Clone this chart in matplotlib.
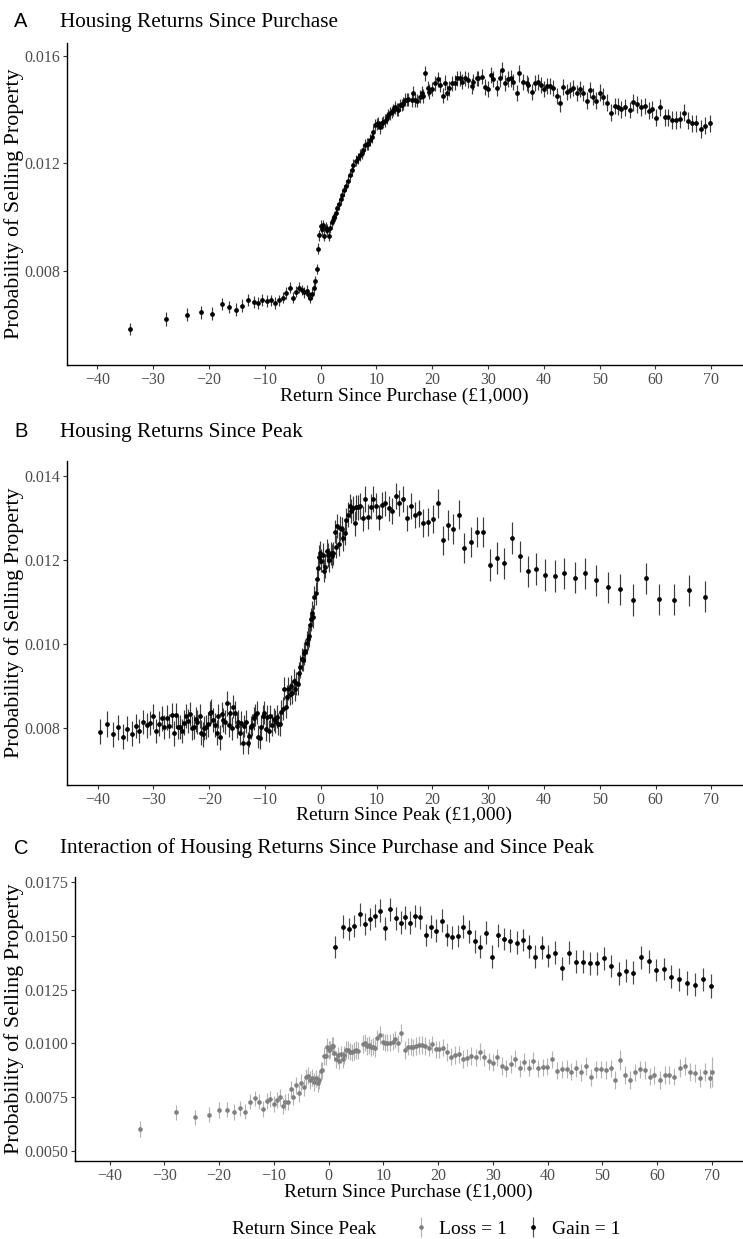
import matplotlib
matplotlib.use('Agg')
import matplotlib.pyplot as plt

plt.rcParams['font.family'] = ['Liberation Serif', 'DejaVu Serif']
plt.rcParams['axes.unicode_minus'] = True

# ---------------- Panel A: returns since purchase ----------------
xA1 = [-34.2, -27.7, -24.0, -21.4, -19.4, -17.7, -16.4, -15.1, -14.0, -13.0,
       -12.0, -11.2, -10.4, -9.6, -8.8, -8.1, -7.4, -6.8, -6.1, -5.5,
       -4.9, -4.4, -3.9, -3.4, -2.9, -2.5, -2.2, -1.8, -1.5, -1.2]
yA1 = [0.00583, 0.00620, 0.00636, 0.00645, 0.00640, 0.00675, 0.00664, 0.00655, 0.00670, 0.00691,
       0.00683, 0.00680, 0.00690, 0.00686, 0.00690, 0.00680, 0.00690, 0.00700, 0.00717, 0.00737,
       0.00700, 0.00722, 0.00737, 0.00728, 0.00720, 0.00725, 0.00713, 0.00700, 0.00712, 0.00737]
eA1 = [0.00024, 0.00026, 0.00025, 0.00024, 0.00024, 0.00023, 0.00023, 0.00023, 0.00023, 0.00022,
       0.00022, 0.00022, 0.00022, 0.00022, 0.00021, 0.00021, 0.00021, 0.00021, 0.00021, 0.00021,
       0.00020, 0.00020, 0.00020, 0.00020, 0.00020, 0.00020, 0.00020, 0.00019, 0.00019, 0.00019]

xA2 = [-1.0, -0.7, -0.5, -0.2, 0.0, 0.2, 0.5, 0.7, 1.0, 1.2,
       1.5, 1.7, 2.0, 2.3, 2.5, 2.8, 3.0, 3.3, 3.6, 3.9,
       4.2, 4.5, 4.9, 5.2, 5.6, 5.9, 6.3]
yA2 = [0.00760, 0.00805, 0.00882, 0.00932, 0.00967, 0.00954, 0.00969, 0.00930, 0.00960, 0.00953,
       0.00930, 0.00960, 0.00983, 0.00990, 0.01000, 0.01014, 0.01033, 0.01047, 0.01067, 0.01082,
       0.01100, 0.01117, 0.01135, 0.01157, 0.01175, 0.01194, 0.01210]
eA2 = [0.00019, 0.00019, 0.00020, 0.00020, 0.00021, 0.00021, 0.00021, 0.00021, 0.00021, 0.00021,
       0.00021, 0.00021, 0.00020, 0.00020, 0.00020, 0.00020, 0.00020, 0.00020, 0.00020, 0.00020,
       0.00020, 0.00020, 0.00021, 0.00021, 0.00021, 0.00021, 0.00021]

xA3 = [6.80, 7.10, 7.40, 7.69, 7.99, 8.29, 8.59, 8.89, 9.18, 9.48,
       9.78, 10.08, 10.38, 10.67, 10.97, 11.27, 11.57, 11.87, 12.16, 12.46,
       12.76, 13.06, 13.36, 13.66, 13.95, 14.25, 14.55, 14.85, 15.15, 15.45,
       15.74, 16.34, 16.64, 16.94, 17.23, 17.83, 18.13, 18.43, 18.73]
yA3 = [0.01219, 0.01231, 0.01237, 0.01250, 0.01268, 0.01272, 0.01272, 0.01287, 0.01297, 0.01318,
       0.01343, 0.01346, 0.01351, 0.01334, 0.01349, 0.01355, 0.01359, 0.01368, 0.01380, 0.01386,
       0.01392, 0.01399, 0.01408, 0.01401, 0.01399, 0.01417, 0.01417, 0.01423, 0.01436, 0.01436,
       0.01438, 0.01436, 0.01463, 0.01436, 0.01433, 0.01448, 0.01463, 0.01451, 0.01535]
eA3 = [0.00021, 0.00021, 0.00021, 0.00021, 0.00022, 0.00022, 0.00022, 0.00022, 0.00022, 0.00022,
       0.00022, 0.00022, 0.00022, 0.00023, 0.00023, 0.00023, 0.00023, 0.00023, 0.00023, 0.00023,
       0.00023, 0.00023, 0.00024, 0.00024, 0.00024, 0.00024, 0.00024, 0.00024, 0.00024, 0.00024,
       0.00025, 0.00025, 0.00025, 0.00025, 0.00025, 0.00025, 0.00025, 0.00026, 0.00027]

xA4 = [19.20, 19.50, 19.92, 20.51, 21.11, 21.41, 21.89, 22.30, 22.60, 23.02,
       23.50, 24.09, 24.39, 24.99, 25.28, 25.88, 26.48, 27.07, 27.37, 27.97,
       28.27, 28.86, 29.46, 30.05, 30.53, 30.95, 31.54, 32.14, 32.44, 33.04,
       33.63, 34.11, 34.53, 35.12, 35.54, 36.32, 36.91, 37.21, 37.81, 38.40,
       38.88, 39.48, 40.07, 40.49, 41.09, 41.68, 42.28, 42.87, 43.47, 44.07,
       44.66, 45.26, 45.86, 46.45, 47.05, 47.65, 48.24, 48.84, 49.43, 50.03,
       50.63, 51.40, 52.12, 52.71, 53.31, 53.91, 54.62, 55.40, 55.99, 56.77,
       57.48, 58.08, 58.80, 59.45, 60.17, 60.88, 61.66, 62.25, 62.97, 63.74,
       64.46, 65.12, 65.83, 66.55, 67.32, 68.10, 68.93, 69.71]
yA4 = [0.01479, 0.01467, 0.01476, 0.01498, 0.01513, 0.01492, 0.01451, 0.01500, 0.01463, 0.01479,
       0.01498, 0.01500, 0.01516, 0.01516, 0.01504, 0.01516, 0.01510, 0.01488, 0.01502, 0.01516,
       0.01516, 0.01523, 0.01485, 0.01476, 0.01529, 0.01513, 0.01479, 0.01516, 0.01548, 0.01498,
       0.01513, 0.01516, 0.01504, 0.01463, 0.01535, 0.01504, 0.01498, 0.01492, 0.01467, 0.01498,
       0.01504, 0.01492, 0.01476, 0.01489, 0.01489, 0.01479, 0.01451, 0.01423, 0.01485, 0.01467,
       0.01473, 0.01482, 0.01463, 0.01476, 0.01463, 0.01433, 0.01473, 0.01448, 0.01433, 0.01463,
       0.01448, 0.01426, 0.01389, 0.01413, 0.01411, 0.01401, 0.01408, 0.01399, 0.01427, 0.01420,
       0.01408, 0.01413, 0.01396, 0.01401, 0.01370, 0.01408, 0.01371, 0.01371, 0.01361, 0.01361,
       0.01364, 0.01389, 0.01358, 0.01349, 0.01349, 0.01329, 0.01340, 0.01349]
eA4 = [0.00027, 0.00027, 0.00027, 0.00027, 0.00028, 0.00028, 0.00028, 0.00028, 0.00028, 0.00028,
       0.00028, 0.00028, 0.00028, 0.00028, 0.00029, 0.00029, 0.00029, 0.00029, 0.00029, 0.00029,
       0.00029, 0.00029, 0.00029, 0.00029, 0.00030, 0.00030, 0.00030, 0.00030, 0.00030, 0.00030,
       0.00030, 0.00030, 0.00030, 0.00030, 0.00031, 0.00030, 0.00030, 0.00030, 0.00030, 0.00030,
       0.00030, 0.00030, 0.00030, 0.00030, 0.00030, 0.00030, 0.00030, 0.00031, 0.00030, 0.00030,
       0.00030, 0.00030, 0.00030, 0.00030, 0.00030, 0.00031, 0.00030, 0.00031, 0.00031, 0.00031,
       0.00031, 0.00031, 0.00031, 0.00031, 0.00031, 0.00031, 0.00031, 0.00031, 0.00031, 0.00031,
       0.00031, 0.00031, 0.00031, 0.00031, 0.00032, 0.00031, 0.00032, 0.00032, 0.00032, 0.00032,
       0.00032, 0.00032, 0.00032, 0.00032, 0.00032, 0.00033, 0.00032, 0.00032]

# ---------------- Panel B: returns since peak ----------------
xB1 = [-39.51, -38.38, -37.30, -36.35, -35.51, -34.67, -33.90, -33.18, -32.52, -31.87,
       -31.21, -30.67, -30.07, -29.54, -29.06, -28.52, -28.10, -27.62, -27.15, -26.73,
       -26.31, -25.95, -25.59, -25.24, -24.82, -24.46, -24.16, -23.80, -23.44, -23.08,
       -22.79, -22.43, -22.13, -21.71, -21.41, -21.11, -20.87, -20.58, -20.22, -19.92,
       -19.62, -19.26, -18.96, -18.66, -18.37, -18.01, -17.77, -17.47, -17.17, -16.81,
       -16.51, -16.27, -15.98, -15.68, -15.38, -15.08, -14.78, -14.54, -14.24, -14.00,
       -13.71, -13.41, -13.11, -12.81, -12.57, -12.33, -12.03, -11.73, -11.44, -11.20,
       -10.96, -10.66, -10.42, -10.12, -9.82, -9.58, -9.29, -9.05, -8.75, -8.45,
       -8.15, -7.91, -7.61, -7.37, -7.08, -6.84, -6.54, -6.30, -6.06, -5.82,
       -5.58, -5.34, -5.10, -4.86, -4.63, -4.39, -4.15, -3.91, -3.67, -3.43,
       -3.25, -3.01, -2.77, -2.54, -2.36, -2.12, -1.94, -1.70, -1.52, -1.34,
       -1.16, -0.92, -0.74, -0.56, -0.32, -0.15, 0.09, 0.33, 0.57, 0.81,
       1.05, 1.29, 1.53, 1.77, 2.00, 2.24, 2.48, 2.72, 2.96, 3.26,
       3.50, 3.80, 4.04, 4.28, 4.57, 4.87, 5.17, 5.47, 5.77, 6.07,
       6.31]
yB1 = [0.007912, 0.008095, 0.007849, 0.008016, 0.007793, 0.007984, 0.007865, 0.008055, 0.007936, 0.008143,
       0.008063, 0.008119, 0.008277, 0.007928, 0.008103, 0.008230, 0.008031, 0.008246, 0.008047, 0.008301,
       0.007873, 0.008301, 0.008031, 0.008031, 0.007936, 0.008127, 0.008293, 0.008166, 0.008333, 0.008000,
       0.008023, 0.008206, 0.008150, 0.008293, 0.007889, 0.007849, 0.008000, 0.008031, 0.008087, 0.008349,
       0.008389, 0.008190, 0.008071, 0.007889, 0.008293, 0.007777, 0.008325, 0.008190, 0.008150, 0.008587,
       0.008071, 0.008349, 0.007992, 0.008508, 0.008365, 0.008047, 0.008150, 0.007873, 0.008127, 0.007650,
       0.008047, 0.008150, 0.007643, 0.007809, 0.008016, 0.008071, 0.008230, 0.008309, 0.008365, 0.007793,
       0.007770, 0.008016, 0.008285, 0.008365, 0.007968, 0.008270, 0.007928, 0.008285, 0.008071, 0.008206,
       0.008158, 0.008270, 0.008095, 0.008087, 0.008389, 0.008460, 0.008936, 0.008508, 0.008746, 0.008936,
       0.008809, 0.009000, 0.008841, 0.009127, 0.008920, 0.009063, 0.009047, 0.009301, 0.009460, 0.009635,
       0.009619, 0.009777, 0.009841, 0.010031, 0.010127, 0.010190, 0.010452, 0.010587, 0.010746, 0.010650,
       0.011111, 0.011206, 0.011539, 0.011801, 0.012079, 0.012174, 0.011984, 0.012119, 0.011746, 0.011841,
       0.012222, 0.012119, 0.012000, 0.012158, 0.012095, 0.012158, 0.012674, 0.012317, 0.012809, 0.012381,
       0.012754, 0.012730, 0.012516, 0.012650, 0.012952, 0.013079, 0.013285, 0.013174, 0.013230, 0.012873,
       0.013254]
eB1 = [0.00030, 0.00030, 0.00030, 0.00030, 0.00030, 0.00029, 0.00029, 0.00029, 0.00029, 0.00029,
       0.00029, 0.00029, 0.00029, 0.00029, 0.00029, 0.00029, 0.00029, 0.00029, 0.00029, 0.00029,
       0.00029, 0.00029, 0.00029, 0.00029, 0.00029, 0.00029, 0.00029, 0.00029, 0.00029, 0.00029,
       0.00029, 0.00029, 0.00029, 0.00029, 0.00029, 0.00029, 0.00029, 0.00029, 0.00029, 0.00029,
       0.00029, 0.00029, 0.00029, 0.00029, 0.00029, 0.00029, 0.00029, 0.00029, 0.00029, 0.00029,
       0.00028, 0.00028, 0.00028, 0.00028, 0.00028, 0.00028, 0.00028, 0.00028, 0.00028, 0.00028,
       0.00027, 0.00027, 0.00027, 0.00027, 0.00027, 0.00027, 0.00027, 0.00027, 0.00027, 0.00027,
       0.00027, 0.00027, 0.00027, 0.00027, 0.00027, 0.00027, 0.00027, 0.00027, 0.00027, 0.00027,
       0.00027, 0.00027, 0.00027, 0.00027, 0.00027, 0.00027, 0.00027, 0.00027, 0.00027, 0.00027,
       0.00027, 0.00027, 0.00027, 0.00027, 0.00027, 0.00027, 0.00027, 0.00027, 0.00027, 0.00027,
       0.00027, 0.00027, 0.00027, 0.00027, 0.00027, 0.00027, 0.00027, 0.00027, 0.00027, 0.00027,
       0.00028, 0.00028, 0.00028, 0.00028, 0.00028, 0.00028, 0.00028, 0.00028, 0.00028, 0.00028,
       0.00028, 0.00028, 0.00028, 0.00028, 0.00028, 0.00028, 0.00028, 0.00028, 0.00028, 0.00028,
       0.00029, 0.00029, 0.00029, 0.00029, 0.00029, 0.00029, 0.00029, 0.00029, 0.00029, 0.00029,
       0.00029]

xB2 = [6.60, 7.02, 7.50, 7.98, 8.39, 8.93, 9.41, 9.89, 10.48, 11.02,
       11.56, 12.16, 12.75, 13.41, 14.07, 14.72, 15.38, 16.10, 16.82, 17.59,
       18.37, 19.20, 20.04, 20.94, 21.83, 22.79, 23.69, 24.76, 25.72, 26.85,
       27.93, 29.12, 30.32, 31.63, 32.89, 34.20, 35.64, 37.13, 38.62, 40.24,
       41.91, 43.64, 45.49, 47.34, 49.32, 51.47, 53.62, 55.89, 58.21, 60.66,
       63.23, 65.92, 68.79]
yB2 = [0.013254, 0.013285, 0.012992, 0.013452, 0.013032, 0.013270, 0.013452, 0.013285, 0.013016, 0.013309,
       0.013349, 0.013230, 0.013166, 0.013524, 0.013349, 0.013452, 0.012992, 0.013285, 0.013071, 0.013111,
       0.012881, 0.012912, 0.012976, 0.013349, 0.012468, 0.012833, 0.012738, 0.013079, 0.012285, 0.012436,
       0.012674, 0.012674, 0.011881, 0.012047, 0.011920, 0.012524, 0.012087, 0.011730, 0.011785, 0.011643,
       0.011619, 0.011682, 0.011579, 0.011682, 0.011516, 0.011349, 0.011301, 0.011047, 0.011563, 0.011063,
       0.011055, 0.011278, 0.011127]
eB2 = [0.00030, 0.00030, 0.00030, 0.00030, 0.00030, 0.00030, 0.00030, 0.00030, 0.00030, 0.00030,
       0.00030, 0.00030, 0.00031, 0.00031, 0.00031, 0.00031, 0.00031, 0.00032, 0.00032, 0.00032,
       0.00033, 0.00033, 0.00034, 0.00034, 0.00035, 0.00035, 0.00035, 0.00035, 0.00036, 0.00036,
       0.00036, 0.00036, 0.00037, 0.00037, 0.00037, 0.00037, 0.00037, 0.00037, 0.00037, 0.00037,
       0.00037, 0.00037, 0.00037, 0.00037, 0.00037, 0.00037, 0.00037, 0.00037, 0.00037, 0.00037,
       0.00037, 0.00037, 0.00037]

# ---------------- Panel C: interaction ----------------
# Loss = 1 (gray)
xCL1 = [-34.52, -27.83, -24.30, -21.81, -19.99, -18.46, -17.25, -16.09, -15.18, -14.27,
        -13.42, -12.69, -11.96, -11.23, -10.62, -10.01, -9.40, -8.91, -8.37, -7.88,
        -7.39, -6.91, -6.42, -5.87, -5.45]
yCL1 = [0.006014, 0.006789, 0.006556, 0.006681, 0.006898, 0.006913, 0.006805, 0.006975, 0.006820, 0.007285,
        0.007440, 0.007285, 0.006929, 0.007316, 0.007394, 0.007177, 0.007363, 0.007487, 0.007084, 0.007285,
        0.007285, 0.007859, 0.007518, 0.008045, 0.007673]
eCL1 = [0.00035, 0.00035, 0.00035, 0.00035, 0.00035, 0.00035, 0.00035, 0.00035, 0.00036, 0.00036,
        0.00036, 0.00036, 0.00037, 0.00037, 0.00037, 0.00037, 0.00038, 0.00038, 0.00038, 0.00038,
        0.00039, 0.00039, 0.00039, 0.00040, 0.00040]

xCL2 = [-5.02, -4.54, -4.17, -3.81, -3.44, -3.08, -2.71, -2.35, -1.98, -1.68,
        -1.43, -1.13, -0.82, -0.52, -0.22, 0.03, 0.33, 0.57, 0.82, 1.06,
        1.36, 1.67, 1.97, 2.28, 2.58, 2.89, 3.19, 3.55, 3.92, 4.28,
        4.65, 5.01, 5.44]
yCL2 = [0.008169, 0.007952, 0.008417, 0.008495, 0.008293, 0.008402, 0.008200, 0.008370, 0.008138, 0.008293,
        0.008727, 0.008743, 0.009409, 0.009409, 0.009843, 0.009688, 0.009719, 0.009874, 0.009874, 0.009564,
        0.009254, 0.009440, 0.009192, 0.009487, 0.009254, 0.009456, 0.009688, 0.009688, 0.009611, 0.009580,
        0.009642, 0.009688, 0.009657]
eCL2 = [0.00040, 0.00040, 0.00040, 0.00040, 0.00040, 0.00040, 0.00040, 0.00040, 0.00040, 0.00040,
        0.00040, 0.00040, 0.00040, 0.00040, 0.00040, 0.00040, 0.00040, 0.00040, 0.00040, 0.00040,
        0.00040, 0.00040, 0.00040, 0.00040, 0.00040, 0.00040, 0.00040, 0.00040, 0.00040, 0.00040,
        0.00040, 0.00040, 0.00040]

xCL3 = [6.24, 6.60, 6.97, 7.33, 7.70, 8.06, 8.49, 8.91, 9.40, 9.89,
        10.31, 10.74, 11.22, 11.71, 12.20, 12.74, 13.29, 13.90, 14.45, 14.99,
        15.48, 16.03, 16.58, 17.12, 17.67, 18.28, 18.95, 19.56, 20.23, 20.96,
        21.56, 22.29, 23.02, 23.88, 24.61, 25.34, 26.07, 26.86, 27.71, 28.44,
        29.23, 30.02, 30.81, 31.60, 32.39, 33.24, 34.09, 34.89, 35.74, 36.53,
        37.38, 38.23, 39.08, 39.93, 40.79, 41.64, 42.55, 43.46, 44.31, 45.23,
        46.14, 47.05, 47.90, 48.81, 49.73, 50.64, 51.49, 52.34, 53.19, 54.11,
        55.02, 55.93, 56.84, 57.76, 58.67, 59.52, 60.49, 61.35, 62.26, 63.17,
        64.14, 65.06, 65.97, 66.88, 67.79, 68.71, 69.62, 70.00]
yCL3 = [0.009967, 0.010029, 0.009874, 0.009921, 0.009812, 0.009843, 0.009766, 0.010231, 0.010386, 0.010076,
        0.010029, 0.010029, 0.010029, 0.010076, 0.010184, 0.009998, 0.010464, 0.009688, 0.009843, 0.009843,
        0.009812, 0.009874, 0.009921, 0.009921, 0.009874, 0.009797, 0.009952, 0.009719, 0.009719, 0.009797,
        0.009595, 0.009378, 0.009456, 0.009487, 0.009270, 0.009332, 0.009409, 0.009347, 0.009611, 0.009347,
        0.009161, 0.009099, 0.009347, 0.008944, 0.008836, 0.009037, 0.009285, 0.008836, 0.009130, 0.008867,
        0.009192, 0.008836, 0.008882, 0.008913, 0.009254, 0.008727, 0.008789, 0.008805, 0.008681, 0.008836,
        0.008650, 0.008960, 0.008417, 0.008789, 0.008789, 0.008758, 0.008836, 0.008293, 0.009223, 0.008526,
        0.008293, 0.008650, 0.008789, 0.008758, 0.008448, 0.008526, 0.008293, 0.008526, 0.008526, 0.008448,
        0.008836, 0.008960, 0.008650, 0.008634, 0.008402, 0.008681, 0.008370, 0.008650]
eCL3 = [0.00040, 0.00040, 0.00040, 0.00040, 0.00040, 0.00040, 0.00040, 0.00040, 0.00040, 0.00040,
        0.00040, 0.00040, 0.00040, 0.00040, 0.00040, 0.00040, 0.00042, 0.00040, 0.00040, 0.00040,
        0.00040, 0.00040, 0.00040, 0.00040, 0.00040, 0.00040, 0.00040, 0.00040, 0.00040, 0.00040,
        0.00040, 0.00040, 0.00040, 0.00040, 0.00040, 0.00040, 0.00040, 0.00040, 0.00040, 0.00040,
        0.00040, 0.00040, 0.00040, 0.00040, 0.00040, 0.00040, 0.00040, 0.00040, 0.00040, 0.00040,
        0.00040, 0.00040, 0.00040, 0.00040, 0.00040, 0.00040, 0.00040, 0.00040, 0.00040, 0.00040,
        0.00040, 0.00042, 0.00040, 0.00040, 0.00040, 0.00040, 0.00040, 0.00042, 0.00045, 0.00040,
        0.00040, 0.00040, 0.00040, 0.00040, 0.00040, 0.00040, 0.00040, 0.00040, 0.00040, 0.00040,
        0.00042, 0.00042, 0.00042, 0.00042, 0.00042, 0.00042, 0.00045, 0.00070]

# Gain = 1 (black)
xCG = [1.19, 2.59, 3.68, 4.71, 5.75, 6.66, 7.57, 8.49, 9.40, 10.37,
       11.28, 12.26, 13.17, 14.02, 14.93, 15.85, 16.76, 17.73, 18.70, 19.68,
       20.65, 21.62, 22.60, 23.57, 24.61, 25.64, 26.67, 27.71, 28.80, 29.84,
       30.99, 32.09, 33.18, 34.34, 35.43, 36.59, 37.74, 38.96, 40.12, 41.39,
       42.61, 43.83, 45.10, 46.38, 47.66, 48.94, 50.21, 51.55, 52.95, 54.29,
       55.63, 57.03, 58.43, 59.82, 61.22, 62.62, 64.08, 65.48, 66.94, 68.40,
       69.80]
yCG = [0.014479, 0.015425, 0.015316, 0.015456, 0.015998, 0.015549, 0.015781, 0.015936, 0.016169, 0.015347,
       0.016231, 0.015812, 0.015611, 0.015859, 0.015611, 0.015921, 0.015859, 0.015037, 0.015425, 0.015239,
       0.015704, 0.015037, 0.014929, 0.014991, 0.015425, 0.015192, 0.014743, 0.014495, 0.015146, 0.014029,
       0.015022, 0.014851, 0.014774, 0.014681, 0.014805, 0.014495, 0.014029, 0.014464, 0.014060, 0.014215,
       0.013487, 0.014215, 0.013797, 0.013797, 0.013719, 0.013719, 0.013952, 0.013595, 0.013239, 0.013378,
       0.013285, 0.013998, 0.013812, 0.013409, 0.013456, 0.013099, 0.012975, 0.012820, 0.012727, 0.012975,
       0.012665]
eCG = [0.00053, 0.00053, 0.00053, 0.00053, 0.00053, 0.00053, 0.00053, 0.00053, 0.00053, 0.00053,
       0.00053, 0.00053, 0.00053, 0.00053, 0.00053, 0.00053, 0.00053, 0.00053, 0.00053, 0.00053,
       0.00053, 0.00053, 0.00053, 0.00053, 0.00053, 0.00053, 0.00053, 0.00053, 0.00053, 0.00053,
       0.00053, 0.00053, 0.00053, 0.00053, 0.00053, 0.00053, 0.00053, 0.00053, 0.00053, 0.00053,
       0.00053, 0.00053, 0.00053, 0.00053, 0.00053, 0.00053, 0.00053, 0.00053, 0.00053, 0.00053,
       0.00053, 0.00053, 0.00053, 0.00053, 0.00053, 0.00053, 0.00055, 0.00055, 0.00055, 0.00055,
       0.00056]

x_ticks = [-40, -30, -20, -10, 0, 10, 20, 30, 40, 50, 60, 70]
yticks_A = [0.008, 0.012, 0.016]
yticks_B = [0.008, 0.010, 0.012, 0.014]
yticks_C = [0.0050, 0.0075, 0.0100, 0.0125, 0.0150, 0.0175]

xA = xA1 + xA2 + xA3 + xA4
yA = yA1 + yA2 + yA3 + yA4
eA = eA1 + eA2 + eA3 + eA4
xB = xB1 + xB2
yB = yB1 + yB2
eB = eB1 + eB2
xCL = xCL1 + xCL2 + xCL3
yCL = yCL1 + yCL2 + yCL3
eCL = eCL1 + eCL2 + eCL3
for a, b, c in [(xA, yA, eA), (xB, yB, eB), (xCL, yCL, eCL), (xCG, yCG, eCG)]:
    assert len(a) == len(b) == len(c), (len(a), len(b), len(c))

W, H = 743, 1239
fig = plt.figure(figsize=(W / 100, H / 100), dpi=100)


def add_ax(l, t, r, b):
    return fig.add_axes([l / W, 1 - b / H, (r - l) / W, (b - t) / H])


def style(ax, xlim, ylim, yticks, yfmt):
    ax.set_xlim(*xlim)
    ax.set_ylim(*ylim)
    for s in ['top', 'right']:
        ax.spines[s].set_visible(False)
    for s in ['left', 'bottom']:
        ax.spines[s].set_linewidth(1.0)
        ax.spines[s].set_color('black')
    ax.set_xticks(x_ticks)
    ax.set_xticklabels([str(v).replace('-', '\u2212') for v in x_ticks])
    ax.set_yticks(yticks)
    ax.set_yticklabels([yfmt % v for v in yticks])
    ax.tick_params(direction='out', length=3, width=0.8, color='#333333',
                   labelsize=11.5, labelcolor='#4d4d4d', pad=1.8)


def ftext(x, y, s, **kw):
    return fig.text(x / W, 1 - y / H, s, **kw)


def draw(ax, x, y, e, pc, ec, ms=2.4):
    return ax.errorbar(x, y, yerr=e, fmt='o', ms=ms, color=pc, mec=pc, mfc=pc,
                       ecolor=ec, elinewidth=0.85, capsize=0, zorder=3)


# Panel A
axA = add_ax(66.5, 42.7, 742, 365)
style(axA, (-45.5, 75.5), (0.004488, 0.016492), yticks_A, '%.3f')
draw(axA, xA, yA, eA, 'black', '#3c3c3c')

# Panel B
axB = add_ax(67, 460.7, 742, 785)
style(axB, (-45.5, 75.5), (0.006643, 0.014364), yticks_B, '%.3f')
draw(axB, xB, yB, eB, 'black', '#3c3c3c')

# Panel C
axC = add_ax(75, 877, 742, 1161)
style(axC, (-46.3, 75.5), (0.004526, 0.017735), yticks_C, '%.4f')
h_loss = draw(axC, xCL, yCL, eCL, '#7f7f7f', '#b3b3b3', ms=2.3)
h_gain = draw(axC, xCG, yCG, eCG, 'black', '#4a4a4a')

# Titles
sans = ['Liberation Sans', 'DejaVu Sans']
for letter, title, yb in [('A', 'Housing Returns Since Purchase', 27),
                          ('B', 'Housing Returns Since Peak', 437),
                          ('C', 'Interaction of Housing Returns Since Purchase and Since Peak', 853.5)]:
    ftext(14, yb, letter, family=sans, fontsize=14.5, va='baseline', ha='left')
    ftext(60, yb, title, fontsize=15.3, va='baseline', ha='left')

# Axis labels
ylab = 'Probability of Selling Property'
for top, bot in [(42.7, 365), (460.7, 785), (877, 1161)]:
    ftext(14, (top + bot) / 2, ylab, rotation=90, fontsize=15.8, va='center', ha='center')
ftext((66.5 + 742) / 2, 396, 'Return Since Purchase (£1,000)', fontsize=14, va='center', ha='center')
ftext((67 + 742) / 2, 815, 'Return Since Peak (£1,000)', fontsize=14, va='center', ha='center')
ftext((75 + 742) / 2, 1192, 'Return Since Purchase (£1,000)', fontsize=14, va='center', ha='center')

# Legend
ftext(232, 1229, 'Return Since Peak', fontsize=14, va='center', ha='left')
fig.legend(handles=[h_loss, h_gain], labels=['Loss = 1', 'Gain = 1'],
           loc='center left', bbox_to_anchor=(412 / W, 1 - 1229 / H), ncol=2,
           frameon=False, fontsize=14, handlelength=0.9, handletextpad=0.5,
           columnspacing=0.9, borderpad=0, borderaxespad=0)

fig.savefig('out.png', dpi=100)
